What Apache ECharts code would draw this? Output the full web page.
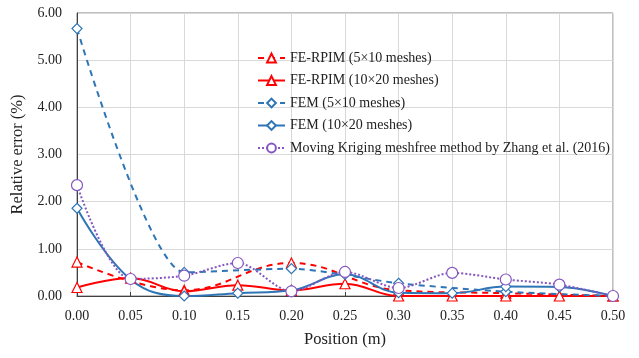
<!DOCTYPE html>
<html><head><meta charset="utf-8">
<script src="https://cdn.jsdelivr.net/npm/echarts@6/dist/echarts.min.js"></script>
<style>html,body{margin:0;padding:0;background:#fff}#c{width:639px;height:358px}</style>
</head><body><div id="c"></div>
<script>
var positions = [0.00,0.05,0.10,0.15,0.20,0.25,0.30,0.35,0.40,0.45,0.50];
var positionsCoarse = [0.00,0.10,0.20,0.30,0.40,0.50];
var feRpim5x10 = [0.72,0.12,0.70,0.12,0.06,0.00];
var feRpim10x20 = [0.18,0.38,0.10,0.23,0.12,0.26,0.00,0.00,0.00,0.00,0.00];
var fem5x10 = [5.67,0.50,0.58,0.27,0.09,0.00];
var fem10x20 = [1.86,0.35,0.00,0.06,0.12,0.46,0.07,0.06,0.20,0.19,0.00];
var movingKriging = [2.35,0.36,0.43,0.70,0.10,0.51,0.17,0.49,0.35,0.24,0.00];
var seriesNames = ['FE-RPIM (5×10 meshes)','FE-RPIM (10×20 meshes)','FEM (5×10 meshes)','FEM (10×20 meshes)','Moving Kriging meshfree method by Zhang et al. (2016)'];
var yTicks = [0,1,2,3,4,5,6];

function pairs(xs,arr){return xs.map(function(x,i){return [x,arr[i]];});}
var RED='#ff0000', BLUE='#2e75b6', PURPLE='#8456c0';
var font='Liberation Serif';
function mk(name,xs,data,color,type,symbol,size,sm){
  return {name:name,type:'line',smooth:sm,data:pairs(xs,data),symbol:symbol,symbolSize:size,
    lineStyle:{color:color,width:2,type:type},
    itemStyle:{color:'#fff',borderColor:color,borderWidth:1.2},
    emphasis:{disabled:true},z:2};
}
var chart=echarts.init(document.getElementById('c'),null,{renderer:'canvas'});
chart.setOption({
  animation:false,
  backgroundColor:'#fff',
  grid:{left:77,right:26,top:13,bottom:62,show:true,borderColor:'#808080',borderWidth:1},
  legend:{orient:'vertical',left:252,top:46,itemWidth:27,itemHeight:11,itemGap:8.5,
    textStyle:{fontFamily:font,fontSize:14,color:'#222'},
    data:seriesNames},
  xAxis:{type:'value',min:0,max:0.5,interval:0.05,
    name:'Position (m)',nameLocation:'middle',nameGap:35,
    nameTextStyle:{fontFamily:font,fontSize:16.5,color:'#222'},
    axisLine:{show:true,lineStyle:{color:'#404040'}},
    axisTick:{show:true,inside:true,length:4,lineStyle:{color:'#404040'}},
    axisLabel:{fontFamily:font,fontSize:14,color:'#222',margin:13,formatter:function(v){return v.toFixed(2);}},
    splitLine:{show:true,lineStyle:{color:'#d9d9d9'}}},
  yAxis:{type:'value',min:yTicks[0],max:yTicks[yTicks.length-1],interval:1,
    name:'Relative error (%)',nameLocation:'middle',nameGap:41,
    nameTextStyle:{fontFamily:font,fontSize:16.5,color:'#222'},
    axisLine:{show:true,lineStyle:{color:'#404040'}},
    axisTick:{show:false},
    axisLabel:{fontFamily:font,fontSize:14,color:'#222',margin:15,formatter:function(v){return v.toFixed(2);}},
    splitLine:{show:true,lineStyle:{color:'#d9d9d9'}}},
  series:[
    mk(seriesNames[0],positionsCoarse,feRpim5x10,RED,[6,5],'triangle',10,0.4),
    mk(seriesNames[1],positions,feRpim10x20,RED,'solid','triangle',10,0.4),
    mk(seriesNames[2],positionsCoarse,fem5x10,BLUE,[6,5],'diamond',10,0.22),
    mk(seriesNames[3],positions,fem10x20,BLUE,'solid','diamond',10,0.4),
    mk(seriesNames[4],positions,movingKriging,PURPLE,[2,2],'circle',11,0.3)
  ]
});
</script></body></html>
